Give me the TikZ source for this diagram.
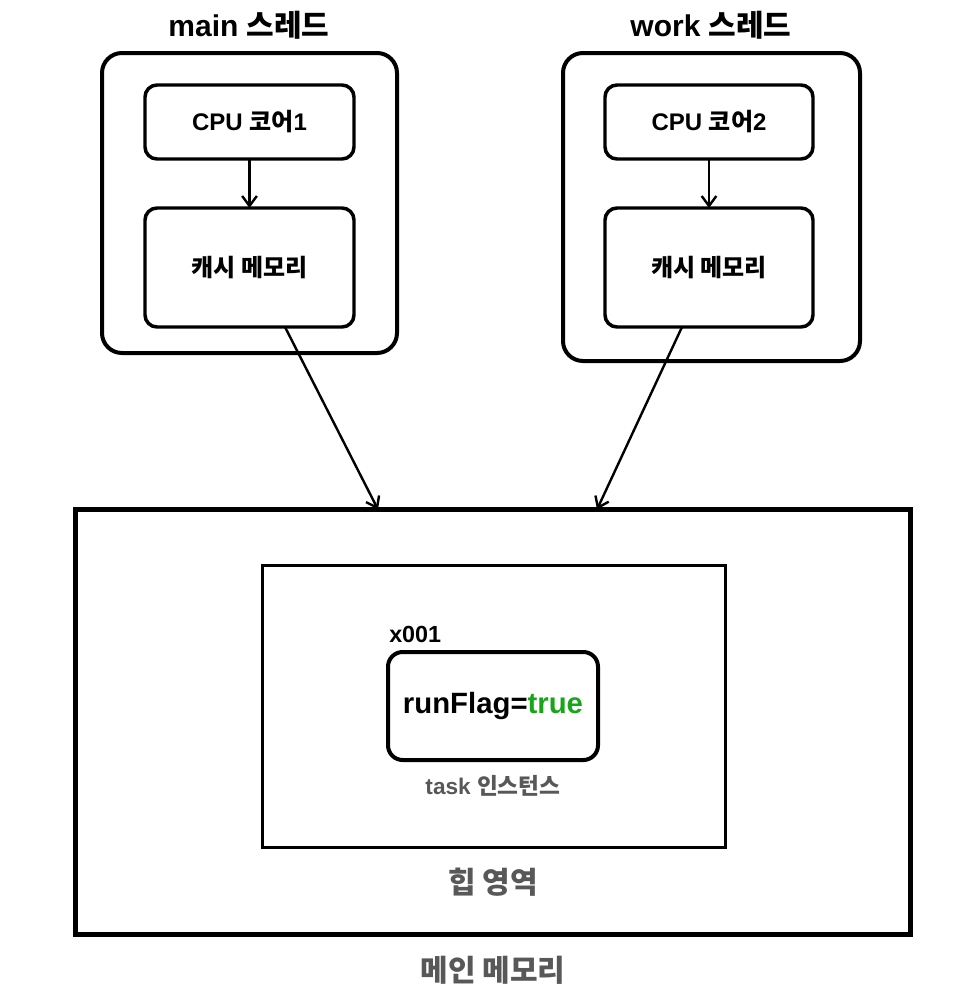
\documentclass[tikz,border=0pt]{standalone}
\usepackage{fontspec}
\setmainfont{Liberation Sans}
\newfontfamily\kr{Noto Sans CJK KR Bold}
\usetikzlibrary{arrows.meta}
\definecolor{labelgray}{RGB}{88,88,88}
\definecolor{flaggreen}{RGB}{25,165,25}
\newcommand\pxu{0.75pt}
\tikzset{
  threadbox/.style={draw, line width=3pt, rounded corners=15pt, inner sep=0pt, outer sep=0pt},
  unitbox/.style={draw, line width=2.6pt, rounded corners=9pt, inner sep=0pt, outer sep=0pt,
    font=\fontsize{18}{21}\selectfont\bfseries},
  titletext/.style={font=\fontsize{22.5}{26}\selectfont\bfseries, inner sep=0pt},
  graytext/.style={text=labelgray, font=\fontsize{22.5}{26}\selectfont\bfseries, inner sep=0pt},
  conn/.style={line width=1.8pt, -{Straight Barb[length=7.5pt,width=11pt,line width=1.8pt]}}
}
\begin{document}
\begin{tikzpicture}[x=0.75pt,y=-0.75pt]
\useasboundingbox (0,0) rectangle (977,997);
% threads
\node[threadbox, minimum width=295*\pxu, minimum height=300*\pxu] (mainT) at (249.5,203) {};
\node[threadbox, minimum width=297*\pxu, minimum height=308*\pxu] (workT) at (711.5,207) {};
\node[titletext] (mainTitle) at (249,25) {main {\kr 스레드}};
\node[titletext] (workTitle) at (711,25) {work {\kr 스레드}};
% cpu + cache
\node[unitbox, minimum width=209*\pxu, minimum height=74*\pxu] (cpu1) at (249.5,122) {CPU {\kr 코어}1};
\node[unitbox, minimum width=209*\pxu, minimum height=119*\pxu] (cache1) at (249.5,267.5) {\kr 캐시 메모리};
\node[unitbox, minimum width=208*\pxu, minimum height=74*\pxu] (cpu2) at (709,122) {CPU {\kr 코어}2};
\node[unitbox, minimum width=208*\pxu, minimum height=119*\pxu] (cache2) at (709,267.5) {\kr 캐시 메모리};
% memory
\node[draw, line width=3.75pt, minimum width=834.5*\pxu, minimum height=424.5*\pxu, inner sep=0pt, outer sep=0pt] (mem) at (492.75,721.75) {};
\node[draw, line width=2.25pt, minimum width=463*\pxu, minimum height=282*\pxu, inner sep=0pt] (heap) at (493.5,706) {};
\node[draw, line width=3pt, rounded corners=11pt, minimum width=210*\pxu, minimum height=108*\pxu, inner sep=0pt,
  font=\fontsize{22}{26}\selectfont\bfseries] (task) at (493,706) {runFlag=\textcolor{flaggreen}{true}};
\node[anchor=west, inner sep=0pt, font=\fontsize{17.5}{20}\selectfont\bfseries] (addr) at (389,634) {x001};
\node[text=labelgray, inner sep=0pt, font=\fontsize{17}{20}\selectfont\bfseries] (taskLabel) at (493,786) {task {\kr 인스턴스}};
\node[graytext] (heapLabel) at (493,882) {\kr 힙 영역};
\node[graytext] (memLabel) at (493,970) {\kr 메인 메모리};
% connectors
\draw[conn] (cpu1.south) -- (cache1.north);
\draw[conn] (cpu2.south) -- (cache2.north);
\draw[conn] ([xshift=35.5*\pxu]cache1.south) -- ([xshift=-114.75*\pxu]mem.north);
\draw[conn] ([xshift=-27*\pxu]cache2.south) -- ([xshift=104.25*\pxu]mem.north);
\end{tikzpicture}
\end{document}
